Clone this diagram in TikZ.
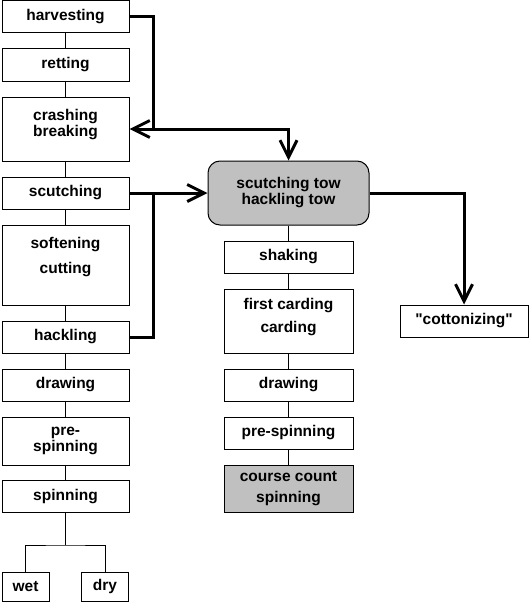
\documentclass[tikz,border=0pt]{standalone}
\usepackage{fontspec}
\setmainfont{Liberation Sans}[Ligatures=TeXOff]
\usetikzlibrary{arrows.meta}
\definecolor{boxgray}{HTML}{C0C0C0}
\begin{document}
\begin{tikzpicture}[x=1pt,y=-1pt,
  box/.style={draw,line width=1pt,fill=white,minimum width=127pt,minimum height=32pt,inner sep=0pt,
    font=\bfseries\fontsize{15.5}{16}\selectfont,align=center},
  midbox/.style={box,minimum width=129pt},
  txt/.style={inner sep=0pt,font=\bfseries\fontsize{15.5}{16}\selectfont,align=center},
  thin/.style={line width=1pt},
  heavy/.style={line width=3pt},
  arr/.style={line width=3pt,-{Straight Barb[length=17pt,width=17pt]}}
]
\useasboundingbox (0,0) rectangle (530,602);
\fill[white] (0,0) rectangle (530,602);

% left column
\node[box] (harv) at (65.5,17) {harvesting};
\node[box] (ret) at (65.5,65) {retting};
\node[box,minimum height=64pt] (crash) at (65.5,129) {};
\node[txt] (crashtxt) at (65.5,125) {crashing\\breaking};
\node[box] (scut) at (65.5,193) {scutching};
\node[box,minimum height=80pt] (soft) at (65.5,265) {};
\node[txt] (softtxt) at (65.5,257) {softening\\[9pt]cutting};
\node[box] (hack) at (65.5,337) {hackling};
\node[box] (drawA) at (65.5,385) {drawing};
\node[box,minimum height=48pt] (preA) at (65.5,441) {pre-\\spinning};
\node[box] (spin) at (65.5,496.5) {spinning};
\node[box,minimum width=47pt,minimum height=29pt] (wet) at (25.5,586.5) {wet};
\node[box,minimum width=47pt,minimum height=29pt] (dry) at (105,586.5) {dry};
\coordinate (fork) at (65.5,545);

% middle column
\node[box,minimum width=161pt,minimum height=64pt,fill=boxgray,rounded corners=12pt] (tow) at (288.5,193) {scutching tow\\hackling tow};
\node[midbox] (shak) at (288.5,257) {shaking};
\node[midbox,minimum height=64pt] (card) at (288.5,321) {};
\node[txt] (cardtxt) at (288.5,317) {first carding\\[7pt]carding};
\node[midbox] (drawB) at (288.5,385) {drawing};
\node[midbox] (preB) at (288.5,433) {pre-spinning};
\node[midbox,minimum height=47pt,fill=boxgray] (ccs) at (288.5,488.5) {course count\\[5pt]spinning};

% right
\node[box,minimum width=128pt] (cot) at (464,321) {"cottonizing"};

% thin connectors
\draw[thin] (harv) -- (ret);
\draw[thin] (ret) -- (crash);
\draw[thin] (crash) -- (scut);
\draw[thin] (scut) -- (soft);
\draw[thin] (soft) -- (hack);
\draw[thin] (hack) -- (drawA);
\draw[thin] (drawA) -- (preA);
\draw[thin] (preA) -- (spin);
\draw[thin] (spin.south) -- (fork);
\draw[thin] (wet.north) |- (fork) -| (dry.north);

\draw[thin] (tow) -- (shak);
\draw[thin] (shak) -- (card);
\draw[thin] (card) -- (drawB);
\draw[thin] (drawB) -- (preB);
\draw[thin] (preB) -- (ccs);

% heavy arrows
\coordinate (j1) at (153,129);
\coordinate (j2) at (153,193);
\draw[arr] (harv.east) -| (j1) -- (crash.east);
\draw[arr] (j1) -| (tow.north);
\draw[arr] (scut.east) -- (tow.west);
\draw[heavy] (hack.east) -| (j2);
\draw[arr] (tow.east) -| (cot.north);
\end{tikzpicture}
\end{document}
